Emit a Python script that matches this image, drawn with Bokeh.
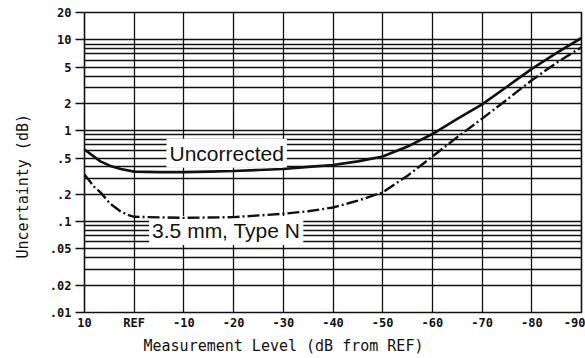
from bokeh.plotting import figure
from bokeh.models import Range1d, FixedTicker, Label, Title
from bokeh.embed import file_html
from bokeh.resources import INLINE

# ---- data ----
unc_x = [10, 6.8, 4.8, 2.7, 0, -5, -10, -15, -20, -25, -30, -35, -40, -45, -50,
         -55, -60, -65, -70, -75, -80, -85, -90]
unc_y = [0.62, 0.46, 0.41, 0.38, 0.355, 0.35, 0.35, 0.355, 0.36, 0.37, 0.38, 0.40,
         0.42, 0.46, 0.52, 0.67, 0.92, 1.35, 1.95, 3.05, 4.8, 7.2, 10.5]

typen_x = [10, 8, 6.8, 4.8, 2.7, 1, 0, -10, -20, -30, -35, -40, -45, -50,
           -55, -60, -65, -70, -75, -80, -85, -90]
typen_y = [0.33, 0.24, 0.21, 0.157, 0.129, 0.117, 0.113, 0.11, 0.112, 0.122, 0.13,
           0.143, 0.17, 0.21, 0.32, 0.52, 0.85, 1.36, 2.2, 3.6, 5.6, 8.3]

x_ticks = [10, 0, -10, -20, -30, -40, -50, -60, -70, -80, -90]
x_tick_labels = ["10", "REF", "-10", "-20", "-30", "-40", "-50", "-60", "-70", "-80", "-90"]
y_ticks = [0.01, 0.02, 0.05, 0.1, 0.2, 0.5, 1, 2, 5, 10, 20]
y_tick_labels = [".01", ".02", ".05", ".1", ".2", ".5", "1", "2", "5", "10", "20"]
y_grid_vals = [m * 10.0 ** e for e in (-2, -1, 0) for m in range(1, 10)] + [10]
x_grid_vals = [0, -10, -20, -30, -40, -50, -60, -70, -80]

mono = "DejaVu Sans Mono"
sans = "Liberation Sans"
ink = "#111111"

p = figure(width=585, height=358, output_backend="svg", toolbar_location=None,
           x_range=Range1d(10, -90), y_range=Range1d(0.01, 20), y_axis_type="log",
           min_border_left=84, min_border_right=4, min_border_top=12, min_border_bottom=46)
p.background_fill_color = "white"
p.border_fill_color = "white"
p.outline_line_color = ink
p.outline_line_width = 1.6

# grids
p.xgrid.ticker = FixedTicker(ticks=x_grid_vals)
p.ygrid.ticker = FixedTicker(ticks=y_grid_vals)
for g in (p.xgrid, p.ygrid):
    g.grid_line_color = ink
    g.grid_line_width = 1.3
    g.grid_line_alpha = 1.0

# x axis
xa = p.xaxis[0]
xa.ticker = FixedTicker(ticks=x_ticks)
xa.major_label_overrides = {t: l for t, l in zip(x_ticks, x_tick_labels)}
xa.major_tick_out = 0
xa.major_tick_in = 0
xa.minor_tick_out = 0
xa.minor_tick_in = 0
xa.major_label_standoff = 3
xa.axis_line_color = ink

# y axis
ya = p.yaxis[0]
ya.ticker = FixedTicker(ticks=y_ticks)
ya.major_label_overrides = {t: l for t, l in zip(y_ticks, y_tick_labels)}
ya.major_tick_out = 9
ya.major_tick_in = 0
ya.major_tick_line_color = ink
ya.major_tick_line_width = 1.3
ya.minor_tick_out = 0
ya.minor_tick_in = 0
ya.major_label_standoff = 4
ya.axis_line_color = ink

for ax in (xa, ya):
    ax.major_label_text_font = mono
    ax.major_label_text_font_size = "12px"
    ax.major_label_text_font_style = "bold"
    ax.major_label_text_color = ink

# axis titles
xt = Title(text="Measurement Level (dB from REF)", align="left", offset=59,
           text_font=mono, text_font_size="15px", text_font_style="normal",
           text_color=ink)
yt = Title(text="Uncertainty (dB)", align="left", offset=54, vertical_align="top",
           text_font=mono, text_font_size="15px", text_font_style="normal",
           text_color=ink)
if "standoff" in Title.properties():
    xt.standoff = 4
    yt.standoff = 25
p.add_layout(xt, "below")
p.add_layout(yt, "left")

# curves
p.line(unc_x, unc_y, line_color=ink, line_width=2.6)
p.line(typen_x, typen_y, line_color=ink, line_width=2.4, line_dash="12 3 2 3")

# in-plot labels with white boxes (drawn under the curves, over the grid)
has_pad = "padding" in Label.properties()
lab1 = Label(x=-6.5, y=0.566, text="Uncorrected", text_font=sans,
             text_font_size="21px", text_color=ink, text_baseline="middle",
             background_fill_color="white", level="underlay")
lab2 = Label(x=-3.0, y=0.080, text="3.5 mm, Type N", text_font=sans,
             text_font_size="21px", text_color=ink, text_baseline="middle",
             background_fill_color="white", level="underlay")
if has_pad:
    lab1.padding = 3
    lab2.padding = 3
p.add_layout(lab1)
p.add_layout(lab2)

open("out.html", "w").write(file_html(p, INLINE))
